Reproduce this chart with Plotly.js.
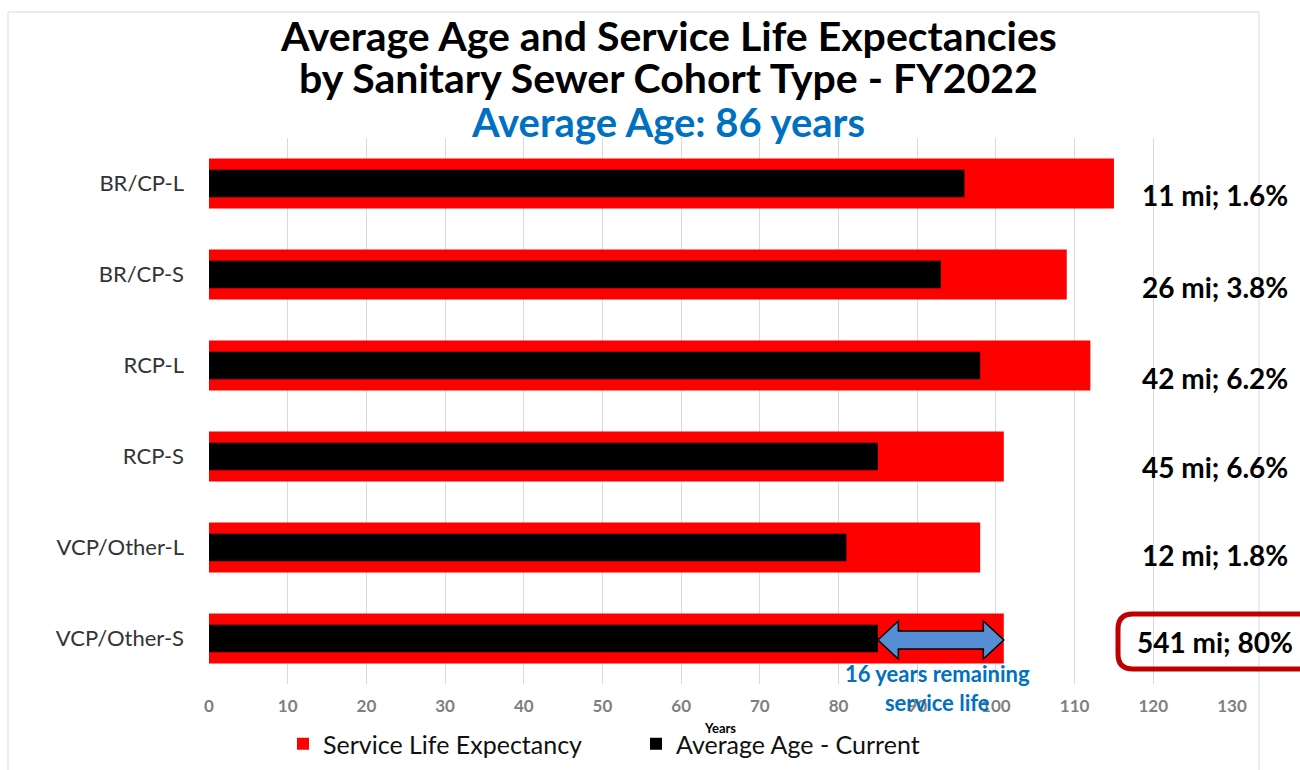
<!DOCTYPE html>
<html>
<head>
<meta charset="utf-8">
<script src="https://cdn.plot.ly/plotly-3.0.1.min.js"></script>
<style>html,body{margin:0;padding:0;background:#fff;}#chart{width:1300px;height:770px;}</style>
</head>
<body>
<div id="chart"></div>
<script>
const categories = ['BR/CP-L', 'BR/CP-S', 'RCP-L', 'RCP-S', 'VCP/Other-L', 'VCP/Other-S'];
const serviceLife = [115, 109, 112, 101, 98, 101];
const averageAge = [96, 93, 98, 85, 81, 85];
const mileLabels = ['11 mi; 1.6%', '26 mi; 3.8%', '42 mi; 6.2%', '45 mi; 6.6%', '12 mi; 1.8%', '541 mi; 80%'];
const xTicks = [0, 10, 20, 30, 40, 50, 60, 70, 80, 90, 100, 110, 120, 130];
const titleLines = ['Average Age and Service Life Expectancies', 'by Sanitary Sewer Cohort Type - FY2022'];
const subtitle = 'Average Age: 86 years';

const FONT = 'Lato, "Open Sans", sans-serif';

const traces = [
  {
    type: 'bar', orientation: 'h', name: 'Service Life Expectancy',
    y: categories, x: serviceLife, width: 0.55,
    marker: {color: '#FF0000'}, hoverinfo: 'x+y'
  },
  {
    type: 'bar', orientation: 'h', name: 'Average Age - Current',
    y: categories, x: averageAge, width: 0.30,
    marker: {color: '#000000'}, hoverinfo: 'x+y'
  }
];

// plot area pixel geometry helpers (paper coordinates)
const PT = 138, PB = 684, PL = 209, PR = 1232;
const py = p => (PB - p) / (PB - PT);
const px = p => (p - PL) / (PR - PL);

// Arrow (remaining service life) for the last category
const iLast = categories.length - 1;
const x0 = averageAge[iLast], x1 = serviceLife[iLast];
const head = 2.6;
const yc = py(640), bh = 9 / 546, hh = 19 / 546;
const arrowPath = [
  'M', x0, yc,
  'L', x0 + head, yc + hh,
  'L', x0 + head, yc + bh,
  'L', x1 - head, yc + bh,
  'L', x1 - head, yc + hh,
  'L', x1, yc,
  'L', x1 - head, yc - hh,
  'L', x1 - head, yc - bh,
  'L', x0 + head, yc - bh,
  'L', x0 + head, yc - hh, 'Z'
].join(' ');

function roundRect(xa, xb, ya, yb, rx, ry) {
  return `M ${xa+rx} ${yb} L ${xb-rx} ${yb} Q ${xb} ${yb} ${xb} ${yb-ry} L ${xb} ${ya+ry} Q ${xb} ${ya} ${xb-rx} ${ya} L ${xa+rx} ${ya} Q ${xa} ${ya} ${xa} ${ya+ry} L ${xa} ${yb-ry} Q ${xa} ${yb} ${xa+rx} ${yb} Z`;
}

const annotations = [
  {
    text: titleLines[0], xref: 'paper', yref: 'paper',
    x: px(668), y: py(35), xanchor: 'center', yanchor: 'middle', showarrow: false,
    font: {family: FONT, size: 41, color: '#000000', weight: 'bold'}
  },
  {
    text: titleLines[1], xref: 'paper', yref: 'paper',
    x: px(668), y: py(78), xanchor: 'center', yanchor: 'middle', showarrow: false,
    font: {family: FONT, size: 41, color: '#000000', weight: 'bold'}
  },
  {
    text: subtitle, xref: 'paper', yref: 'paper',
    x: px(668), y: py(122), xanchor: 'center', yanchor: 'middle', showarrow: false,
    font: {family: FONT, size: 40, color: '#0070C0', weight: 'bold'}
  },
  {
    text: 'Years', xref: 'paper', yref: 'paper', x: px(720), y: py(728),
    xanchor: 'center', yanchor: 'middle', showarrow: false,
    font: {family: FONT, size: 13, color: '#000000', weight: 'bold'}
  },
  {
    text: '16 years remaining<br>service life', xref: 'x', yref: 'paper',
    x: (x0 + x1) / 2 - 0.4, y: py(688), xanchor: 'center', yanchor: 'middle', showarrow: false,
    font: {family: FONT, size: 22, color: '#0070C0', weight: 'bold'}
  }
];
const labelShift = [-11, -12, -12, -10, -7, -3];
mileLabels.forEach((t, i) => {
  annotations.push({
    text: t, xref: 'paper', yref: 'y', x: px(1215), y: categories[i], yshift: labelShift[i],
    xanchor: 'center', yanchor: 'middle', showarrow: false,
    font: {family: FONT, size: 28, color: '#000000', weight: 'bold'}
  });
});

const shapes = [
  {type: 'rect', xref: 'paper', yref: 'paper', x0: px(8), x1: px(1259), y0: py(790), y1: py(12),
   line: {color: '#d9d9d9', width: 1}, layer: 'below'},
  {type: 'path', xref: 'x', yref: 'paper', path: arrowPath,
   fillcolor: '#558ED5', line: {color: '#000000', width: 1.5}},
  {type: 'path', xref: 'paper', yref: 'paper',
   path: roundRect(px(1118), px(1330), py(669), py(614), 15 / 1023, 15 / 546),
   line: {color: '#C00000', width: 5}, fillcolor: 'rgba(255,255,255,0)'}
];

const layout = {
  width: 1300, height: 770,
  margin: {l: PL, r: 1300 - PR, t: PT, b: 770 - PB, autoexpand: false},
  paper_bgcolor: '#ffffff', plot_bgcolor: '#ffffff',
  barmode: 'overlay',
  showlegend: true,
  legend: {
    orientation: 'h', x: px(283), xanchor: 'left', y: py(744), yanchor: 'middle',
    font: {family: FONT, size: 25, color: '#111111'}, traceorder: 'normal',
    entrywidth: 308, itemwidth: 30
  },
  xaxis: {
    range: [0, 130], tickvals: xTicks, showgrid: true, gridcolor: '#d9d9d9',
    zeroline: false, showline: false, ticks: '', ticklabelstandoff: 10,
    tickfont: {family: FONT, size: 17, color: '#7f7f7f', weight: 'bold'}
  },
  yaxis: {
    type: 'category', range: [5.5, -0.5], showgrid: false, zeroline: false,
    showline: false, ticks: '', ticklabelstandoff: 24,
    tickfont: {family: FONT, size: 22, color: '#333333'}
  },
  annotations: annotations,
  shapes: shapes
};

Plotly.newPlot('chart', traces, layout, {displayModeBar: false, responsive: false});
</script>
</body>
</html>
